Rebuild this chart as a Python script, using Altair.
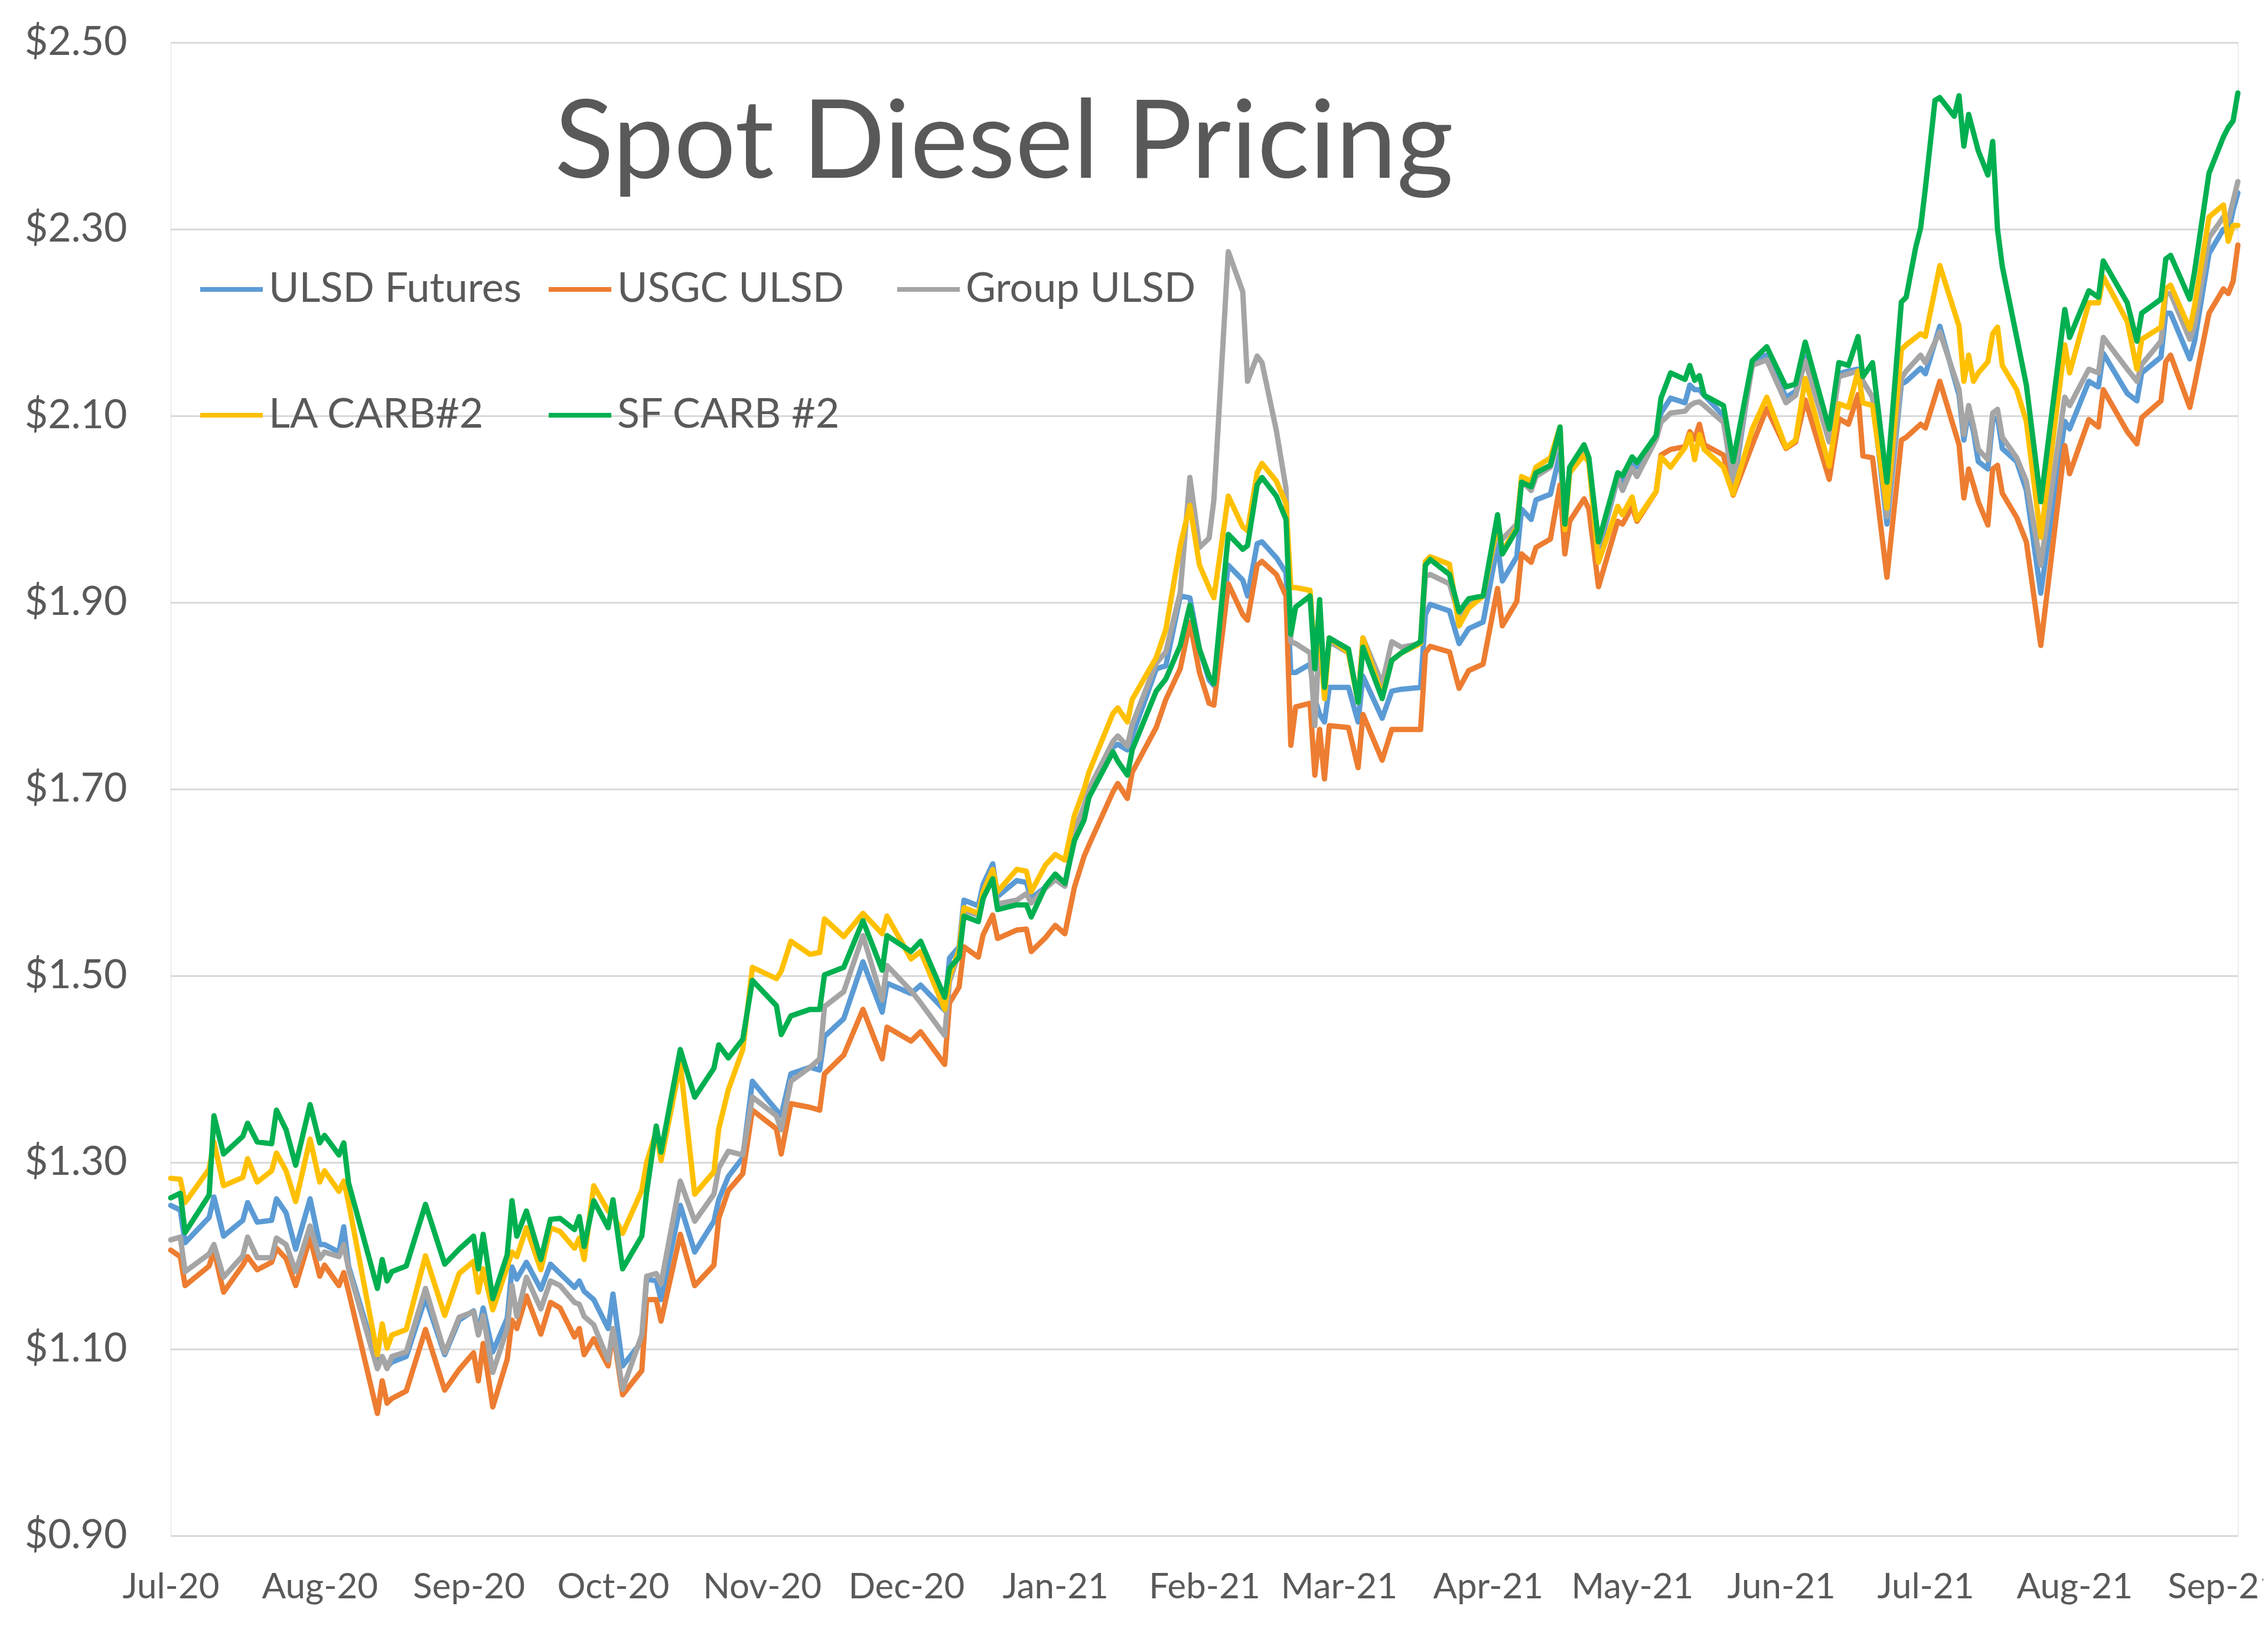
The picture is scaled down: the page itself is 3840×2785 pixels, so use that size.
import altair as alt
import pandas as pd

# ---------------- data ----------------
dates = [
    "2020-07-01", "2020-07-03", "2020-07-04", "2020-07-09", "2020-07-10", "2020-07-12",
    "2020-07-16", "2020-07-17", "2020-07-19", "2020-07-22", "2020-07-23", "2020-07-25",
    "2020-07-27", "2020-07-30", "2020-08-01", "2020-08-02", "2020-08-05", "2020-08-06",
    "2020-08-07", "2020-08-13", "2020-08-14", "2020-08-15", "2020-08-16", "2020-08-19",
    "2020-08-23", "2020-08-27", "2020-08-30", "2020-09-02", "2020-09-03", "2020-09-04",
    "2020-09-06", "2020-09-09", "2020-09-10", "2020-09-11", "2020-09-13", "2020-09-16",
    "2020-09-18", "2020-09-20", "2020-09-23", "2020-09-24", "2020-09-25", "2020-09-27",
    "2020-09-30", "2020-10-01", "2020-10-03", "2020-10-07", "2020-10-08", "2020-10-10",
    "2020-10-11", "2020-10-15", "2020-10-18", "2020-10-22", "2020-10-23", "2020-10-25",
    "2020-10-28", "2020-10-30", "2020-11-04", "2020-11-05", "2020-11-07", "2020-11-11",
    "2020-11-13", "2020-11-14", "2020-11-18", "2020-11-22", "2020-11-26", "2020-11-27",
    "2020-12-02", "2020-12-04", "2020-12-09", "2020-12-10", "2020-12-12", "2020-12-13",
    "2020-12-16", "2020-12-17", "2020-12-19", "2020-12-20", "2020-12-24", "2020-12-26",
    "2020-12-27", "2020-12-30", "2021-01-01", "2021-01-03", "2021-01-05", "2021-01-07",
    "2021-01-08", "2021-01-13", "2021-01-14", "2021-01-16", "2021-01-17", "2021-01-22",
    "2021-01-24", "2021-01-27", "2021-01-29", "2021-01-31", "2021-02-02", "2021-02-03",
    "2021-02-06", "2021-02-09", "2021-02-10", "2021-02-12", "2021-02-13", "2021-02-16",
    "2021-02-18", "2021-02-19", "2021-02-20", "2021-02-23", "2021-02-24", "2021-02-25",
    "2021-02-26", "2021-02-27", "2021-03-03", "2021-03-05", "2021-03-06", "2021-03-10",
    "2021-03-12", "2021-03-14", "2021-03-18", "2021-03-19", "2021-03-20", "2021-03-24",
    "2021-03-26", "2021-03-28", "2021-03-31", "2021-04-03", "2021-04-04", "2021-04-07",
    "2021-04-08", "2021-04-10", "2021-04-11", "2021-04-14", "2021-04-16", "2021-04-17",
    "2021-04-18", "2021-04-21", "2021-04-22", "2021-04-24", "2021-04-28", "2021-04-29",
    "2021-05-01", "2021-05-02", "2021-05-06", "2021-05-07", "2021-05-09", "2021-05-12",
    "2021-05-13", "2021-05-14", "2021-05-15", "2021-05-16", "2021-05-20", "2021-05-22",
    "2021-05-26", "2021-05-29", "2021-06-02", "2021-06-04", "2021-06-06", "2021-06-11",
    "2021-06-13", "2021-06-15", "2021-06-17", "2021-06-18", "2021-06-20", "2021-06-23",
    "2021-06-26", "2021-06-27", "2021-06-29", "2021-06-30", "2021-07-01", "2021-07-03",
    "2021-07-04", "2021-07-07", "2021-07-08", "2021-07-09", "2021-07-10", "2021-07-11",
    "2021-07-12", "2021-07-14", "2021-07-15", "2021-07-16", "2021-07-17", "2021-07-20",
    "2021-07-22", "2021-07-25", "2021-07-30", "2021-07-31", "2021-08-04", "2021-08-06",
    "2021-08-07", "2021-08-12", "2021-08-14", "2021-08-15", "2021-08-19", "2021-08-20",
    "2021-08-21", "2021-08-25", "2021-08-26", "2021-08-29", "2021-09-01", "2021-09-02",
    "2021-09-03", "2021-09-04",
]

ulsd_futures = [
    1.254, 1.249, 1.214, 1.241, 1.263, 1.221, 1.238, 1.257, 1.236, 1.238, 1.261, 1.246,
    1.207, 1.261, 1.212, 1.212, 1.204, 1.231, 1.189, 1.086, 1.092, 1.081, 1.086, 1.092,
    1.155, 1.094, 1.131, 1.141, 1.118, 1.144, 1.097, 1.133, 1.188, 1.175, 1.193, 1.164,
    1.191, 1.181, 1.166, 1.173, 1.162, 1.153, 1.122, 1.159, 1.082, 1.108, 1.175, 1.173,
    1.153, 1.254, 1.204, 1.237, 1.260, 1.285, 1.305, 1.387, 1.356, 1.350, 1.395, 1.402,
    1.399, 1.435, 1.454, 1.515, 1.461, 1.492, 1.481, 1.490, 1.463, 1.519, 1.531, 1.581,
    1.575, 1.598, 1.620, 1.585, 1.602, 1.600, 1.583, 1.595, 1.605, 1.596, 1.650, 1.673,
    1.694, 1.745, 1.748, 1.742, 1.757, 1.829, 1.832, 1.907, 1.905, 1.850, 1.817, 1.811,
    1.940, 1.924, 1.907, 1.963, 1.965, 1.948, 1.932, 1.825, 1.825, 1.834, 1.797, 1.780,
    1.772, 1.809, 1.809, 1.772, 1.821, 1.776, 1.805, 1.807, 1.809, 1.887, 1.898, 1.891,
    1.856, 1.872, 1.879, 1.962, 1.923, 1.949, 2.000, 1.989, 2.010, 2.016, 2.060, 1.982,
    2.043, 2.063, 2.050, 1.955, 2.033, 2.030, 2.053, 2.045, 2.075, 2.103, 2.119, 2.114,
    2.133, 2.128, 2.128, 2.122, 2.100, 2.020, 2.159, 2.165, 2.120, 2.126, 2.163, 2.075,
    2.145, 2.148, 2.150, 2.137, 2.120, 1.984, 2.134, 2.137, None, 2.151, 2.145, None,
    2.196, None, 2.122, 2.074, 2.105, 2.083, 2.051, 2.043, 2.095, 2.098, 2.065, 2.051,
    2.020, 1.910, 2.094, 2.086, 2.137, 2.131, 2.167, 2.124, 2.116, 2.146, 2.163, 2.210,
    2.210, 2.161, 2.180, 2.274, 2.300, 2.296, 2.320, 2.339,
]

usgc_ulsd = [
    1.206, 1.199, 1.168, 1.189, 1.206, 1.161, 1.190, 1.199, 1.185, 1.193, 1.208, 1.197,
    1.168, 1.219, 1.178, 1.190, 1.168, 1.182, 1.162, 1.031, 1.066, 1.042, 1.047, 1.055,
    1.121, 1.056, 1.078, 1.096, 1.066, 1.106, 1.038, 1.089, 1.131, 1.122, 1.157, 1.116,
    1.150, 1.144, 1.113, 1.122, 1.094, 1.111, 1.082, 1.119, 1.051, 1.077, 1.153, 1.153,
    1.130, 1.223, 1.168, 1.190, 1.240, 1.270, 1.288, 1.356, 1.336, 1.309, 1.363, 1.359,
    1.356, 1.395, 1.415, 1.464, 1.411, 1.445, 1.430, 1.440, 1.405, 1.471, 1.488, 1.531,
    1.520, 1.544, 1.565, 1.540, 1.549, 1.550, 1.526, 1.541, 1.554, 1.545, 1.595, 1.628,
    1.640, 1.697, 1.706, 1.690, 1.718, 1.766, 1.796, 1.829, 1.879, 1.825, 1.792, 1.790,
    1.920, 1.887, 1.881, 1.940, 1.944, 1.930, 1.907, 1.747, 1.788, 1.792, 1.715, 1.764,
    1.711, 1.768, 1.766, 1.723, 1.780, 1.731, 1.764, 1.764, 1.764, 1.846, 1.853, 1.847,
    1.808, 1.827, 1.834, 1.915, 1.875, 1.901, 1.952, 1.943, 1.959, 1.968, 2.026, 1.952,
    1.987, 2.011, 2.000, 1.917, 1.987, 1.984, 2.003, 1.987, 2.019, 2.058, 2.064, 2.067,
    2.083, 2.075, 2.091, 2.069, 2.058, 2.015, 2.069, 2.108, 2.065, 2.072, 2.117, 2.032,
    2.097, 2.091, 2.123, 2.057, 2.055, 1.927, 2.074, 2.077, None, 2.091, 2.087, None,
    2.137, None, 2.069, 2.012, 2.043, 2.026, 2.008, 1.983, 2.043, 2.047, 2.017, 1.991,
    1.965, 1.854, 2.068, 2.038, 2.096, 2.088, 2.128, 2.083, 2.070, 2.098, 2.116, 2.158,
    2.165, 2.109, 2.133, 2.210, 2.236, 2.231, 2.244, 2.283,
]

group_ulsd = [
    1.217, 1.220, 1.183, 1.202, 1.212, 1.177, 1.200, 1.220, 1.198, 1.198, 1.219, 1.212,
    1.183, 1.232, 1.197, 1.204, 1.199, 1.212, 1.186, 1.079, 1.092, 1.079, 1.092, 1.097,
    1.165, 1.096, 1.134, 1.140, 1.115, 1.136, 1.075, 1.122, 1.168, 1.135, 1.177, 1.143,
    1.173, 1.168, 1.150, 1.148, 1.135, 1.126, 1.088, 1.122, 1.057, 1.115, 1.178, 1.181,
    1.170, 1.280, 1.237, 1.266, 1.294, 1.312, 1.308, 1.370, 1.350, 1.335, 1.387, 1.402,
    1.411, 1.467, 1.483, 1.543, 1.474, 1.511, 1.484, 1.471, 1.436, 1.494, 1.525, 1.570,
    1.565, 1.588, 1.608, 1.577, 1.581, 1.588, 1.578, 1.594, 1.603, 1.596, 1.655, 1.682,
    1.700, 1.751, 1.757, 1.746, 1.769, 1.835, 1.847, 1.911, 2.034, 1.959, 1.969, 2.010,
    2.276, 2.233, 2.137, 2.164, 2.157, 2.084, 2.022, 1.858, 1.856, 1.846, 1.768, 1.870,
    1.809, 1.858, 1.846, 1.797, 1.862, 1.813, 1.858, 1.852, 1.856, 1.928, 1.930, 1.920,
    1.886, 1.900, 1.907, 1.978, 1.968, 1.984, 2.030, 2.020, 2.035, 2.045, 2.080, 1.985,
    2.043, 2.065, 2.050, 1.962, 2.033, 2.020, 2.044, 2.035, 2.075, 2.093, 2.103, 2.105,
    2.111, 2.114, 2.115, 2.111, 2.093, 2.030, 2.154, 2.160, 2.114, 2.122, 2.159, 2.072,
    2.142, 2.145, 2.148, 2.137, 2.120, 1.992, 2.140, 2.148, None, 2.165, 2.157, None,
    2.190, None, 2.128, 2.080, 2.111, 2.089, 2.064, 2.053, 2.103, 2.107, 2.077, 2.055,
    2.030, 1.940, 2.120, 2.111, 2.150, 2.146, 2.184, 2.150, 2.137, 2.155, 2.180, 2.231,
    2.231, 2.182, 2.197, 2.291, 2.313, 2.309, 2.330, 2.351,
]

la_carb2 = [
    1.283, 1.282, 1.257, 1.293, 1.322, 1.275, 1.284, 1.304, 1.279, 1.291, 1.310, 1.291,
    1.258, 1.325, 1.279, 1.291, 1.269, 1.280, 1.257, 1.094, 1.127, 1.101, 1.115, 1.121,
    1.200, 1.136, 1.181, 1.194, 1.161, 1.186, 1.142, 1.188, 1.204, 1.199, 1.230, 1.185,
    1.230, 1.226, 1.208, 1.219, 1.196, 1.275, 1.248, 1.244, 1.224, 1.270, 1.300, 1.333,
    1.302, 1.406, 1.266, 1.290, 1.336, 1.378, 1.421, 1.509, 1.497, 1.505, 1.537, 1.523,
    1.525, 1.561, 1.542, 1.567, 1.545, 1.564, 1.518, 1.526, 1.464, 1.499, 1.528, 1.573,
    1.567, 1.590, 1.614, 1.590, 1.614, 1.612, 1.590, 1.619, 1.630, 1.624, 1.672, 1.700,
    1.718, 1.781, 1.787, 1.772, 1.796, 1.841, 1.871, 1.961, 2.004, 1.940, 1.916, 1.905,
    2.014, 1.981, 1.977, 2.039, 2.049, 2.030, 2.006, 1.916, 1.916, 1.913, 1.840, 1.870,
    1.797, 1.862, 1.846, 1.793, 1.862, 1.800, 1.838, 1.846, 1.856, 1.944, 1.949, 1.941,
    1.875, 1.894, 1.907, 1.985, 1.955, 1.980, 2.035, 2.030, 2.045, 2.055, 2.088, 1.978,
    2.039, 2.058, 2.050, 1.943, 2.003, 1.994, 2.013, 1.989, 2.019, 2.056, 2.045, 2.066,
    2.080, 2.053, 2.080, 2.064, 2.045, 2.016, 2.086, 2.120, 2.066, 2.074, 2.140, 2.046,
    2.113, 2.109, 2.148, 2.114, 2.111, 2.001, 2.171, 2.176, None, 2.188, 2.185, None,
    2.261, None, 2.196, 2.137, 2.165, 2.137, 2.146, 2.158, 2.188, 2.195, 2.154, 2.128,
    2.094, 1.970, 2.176, 2.146, 2.221, 2.221, 2.249, 2.201, 2.150, 2.182, 2.195, 2.236,
    2.240, 2.193, 2.218, 2.313, 2.326, 2.287, 2.304, 2.304,
]

sf_carb2 = [
    1.262, 1.267, 1.225, 1.265, 1.350, 1.309, 1.328, 1.342, 1.322, 1.320, 1.356, 1.335,
    1.297, 1.362, 1.321, 1.329, 1.308, 1.321, 1.278, 1.165, 1.196, 1.173, 1.183, 1.189,
    1.255, 1.191, 1.207, 1.221, 1.186, 1.223, 1.154, 1.201, 1.259, 1.221, 1.248, 1.196,
    1.239, 1.240, 1.228, 1.242, 1.210, 1.259, 1.230, 1.260, 1.186, 1.221, 1.268, 1.339,
    1.311, 1.421, 1.370, 1.401, 1.426, 1.412, 1.432, 1.495, 1.468, 1.437, 1.457, 1.464,
    1.464, 1.501, 1.509, 1.559, 1.506, 1.543, 1.526, 1.537, 1.477, 1.508, 1.520, 1.564,
    1.558, 1.583, 1.604, 1.571, 1.576, 1.576, 1.563, 1.596, 1.609, 1.599, 1.645, 1.667,
    1.691, 1.740, 1.730, 1.715, 1.742, 1.805, 1.818, 1.854, 1.897, 1.850, 1.821, 1.813,
    1.973, 1.957, 1.961, 2.026, 2.034, 2.014, 1.989, 1.866, 1.895, 1.907, 1.829, 1.903,
    1.809, 1.862, 1.850, 1.793, 1.852, 1.797, 1.838, 1.846, 1.858, 1.940, 1.946, 1.930,
    1.890, 1.904, 1.907, 1.994, 1.952, 1.978, 2.029, 2.024, 2.039, 2.047, 2.088, 1.984,
    2.045, 2.069, 2.055, 1.965, 2.039, 2.036, 2.056, 2.050, 2.079, 2.119, 2.146, 2.139,
    2.154, 2.138, 2.143, 2.122, 2.111, 2.051, 2.159, 2.174, 2.131, 2.134, 2.179, 2.086,
    2.157, 2.154, 2.185, 2.142, 2.157, 2.029, 2.222, 2.227, 2.281, 2.301, 2.344, 2.438,
    2.441, 2.421, 2.443, 2.389, 2.423, None, 2.384, 2.358, 2.394, 2.300, 2.260, 2.184,
    2.133, 2.008, 2.214, 2.184, 2.234, 2.227, 2.266, 2.221, 2.180, 2.210, 2.225, 2.268,
    2.272, 2.225, 2.255, 2.360, 2.399, 2.409, 2.416, 2.446,
]

series_names = ["ULSD Futures", "USGC ULSD", "Group ULSD", "LA CARB#2", "SF CARB #2"]
series_colors = ["#5B9BD5", "#ED7D31", "#A5A5A5", "#FFC000", "#00B050"]
y_ticks = [0.90, 1.10, 1.30, 1.50, 1.70, 1.90, 2.10, 2.30, 2.50]
x_tick_months = [
    (2020, 7), (2020, 8), (2020, 9), (2020, 10), (2020, 11), (2020, 12),
    (2021, 1), (2021, 2), (2021, 3), (2021, 4), (2021, 5), (2021, 6),
    (2021, 7), (2021, 8), (2021, 9),
]
title_text = "Spot Diesel Pricing"

# ---------------- build long table ----------------
wide = pd.DataFrame({
    "date": dates,
    "ULSD Futures": ulsd_futures,
    "USGC ULSD": usgc_ulsd,
    "Group ULSD": group_ulsd,
    "LA CARB#2": la_carb2,
    "SF CARB #2": sf_carb2,
})
long = wide.melt(id_vars="date", var_name="series", value_name="price").dropna()

FONT = "Lato"
TEXT = "#595959"

x_enc = alt.X(
    "date:T",
    scale=alt.Scale(type="utc", domain=[alt.DateTime(year=2020, month=7, date=1, utc=True),
                                        alt.DateTime(year=2021, month=9, date=4, utc=True)]),
    axis=alt.Axis(
        values=[alt.DateTime(year=y, month=m, date=1, utc=True) for y, m in x_tick_months],
        labelExpr="utcFormat(datum.value, '%b-%y')",
        grid=False, ticks=False, tickSize=0, domain=False,
        labelFontSize=60, labelColor=TEXT, labelFont=FONT, labelPadding=58,
        labelOverlap=False, labelFlush=False, labelLimit=1000, labelBound=False,
        title=None,
    ),
)
y_enc = alt.Y(
    "price:Q",
    scale=alt.Scale(domain=[0.9, 2.5], nice=False, zero=False),
    axis=alt.Axis(
        values=y_ticks,
        labelExpr="'$' + format(datum.value, '.2f')",
        grid=True, gridColor="#D9D9D9", gridWidth=3,
        ticks=False, tickSize=0, domain=False,
        labelFontSize=68, labelColor=TEXT, labelFont=FONT, labelPadding=74,
        labelLimit=1000, title=None,
    ),
)
color_enc = alt.Color(
    "series:N",
    scale=alt.Scale(domain=series_names, range=series_colors),
    legend=alt.Legend(
        title=None, orient="none", legendX=46, legendY=361,
        columns=3, direction="horizontal", gridAlign="all",
        columnPadding=30, rowPadding=121, padding=0,
        symbolType="stroke", symbolSize=11236, symbolStrokeWidth=8,
        labelFontSize=70, labelFont=FONT, labelColor=TEXT, labelOffset=6,
        labelLimit=2000,
    ),
)

layers = []
for name in series_names:
    layers.append(
        alt.Chart(long)
        .transform_filter(alt.datum.series == name)
        .mark_line(strokeWidth=9, strokeJoin="round", strokeCap="round")
        .encode(x=x_enc, y=y_enc, color=color_enc)
    )

chart = (
    alt.layer(*layers)
    .properties(
        width=3500, height=2528,
        title=alt.TitleParams(
            title_text, fontSize=185, font=FONT, color=TEXT, fontWeight="normal",
            anchor="start", frame="group", orient="top", offset=0, dx=650, dy=448,
            baseline="alphabetic",
        ),
        padding={"left": 281, "top": 64, "right": 43, "bottom": 177},
        autosize=alt.AutoSizeParams(type="none"),
    )
    .configure_view(stroke=None)
    .configure(background="white")
)

chart.save("out.html", embed_options={"renderer": "svg", "actions": False})
